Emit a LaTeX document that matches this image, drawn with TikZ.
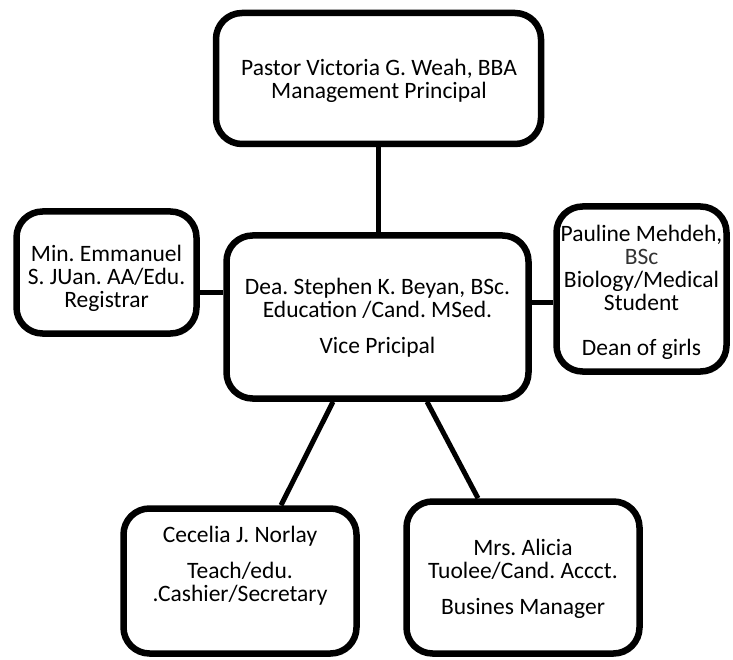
\documentclass[tikz,border=0pt]{standalone}
\usepackage{fontspec}
\setmainfont{Carlito}
\usetikzlibrary{shadows}
\frenchspacing
\begin{document}
\begin{tikzpicture}[x=1pt,y=-1pt,
  box/.style={draw=black, line width=6.5pt, rounded corners=26pt, fill=white,
    inner sep=0pt, drop shadow={shadow xshift=2pt, shadow yshift=-3pt, opacity=0.35}},
  txt/.style={align=center, font=\fontsize{23.5}{23}\selectfont\frenchspacing, inner sep=0pt},
  link/.style={line width=5pt}]
\useasboundingbox (0,0) rectangle (733,660);
% boxes
\node[box, minimum width=325pt, minimum height=131pt] (top) at (378.5,78.5) {};
\node[box, minimum width=180pt, minimum height=122pt] (left) at (106.5,272.5) {};
\node[box, minimum width=302pt, minimum height=163pt] (mid) at (377.5,317) {};
\node[box, minimum width=170pt, minimum height=165pt] (right) at (641.5,289) {};
\node[box, minimum width=233pt, minimum height=145pt] (cec) at (240,581) {};
\node[box, minimum width=233pt, minimum height=152pt] (ali) at (523,577.5) {};
% texts
\node[txt] (top-t) at (379,81) {Pastor Victoria G. Weah, BBA\\Management Principal};
\node[txt] (left-t) at (106.5,278) {Min. Emmanuel\\S. JUan. AA/Edu.\\Registrar};
\node[txt] (mid-t) at (377.5,318) {Dea. Stephen K. Beyan, BSc.\\Education /Cand. MSed.\\[13pt]Vice Pricipal};
\node[txt] (right-t) at (641.5,292) {Pauline Mehdeh,\\{\color{black!80}BSc}\\Biology/Medical\\Student\\[22pt]Dean of girls};
\node[txt] (cec-t) at (240,566) {Cecelia J. Norlay\\[13pt]Teach/edu.\\.Cashier/Secretary};
\node[txt] (ali-t) at (523,579) {Mrs. Alicia\\Tuolee/Cand. Accct.\\[13pt]Busines Manager};
% connectors
\draw[link] (top.south) -- (top.south |- mid.north);
\draw[link] ([yshift=-19.5pt]left.east) -- ([yshift=-19.5pt]left.east -| mid.west);
\draw[link] ([yshift=-13pt]right.west) -- ([yshift=-13pt]right.west -| mid.east);
\draw[link] ([xshift=-44.5pt]mid.south) -- ([xshift=41pt]cec.north);
\draw[link] ([xshift=49.5pt]mid.south) -- ([xshift=-45pt]ali.north);
\end{tikzpicture}
\end{document}
